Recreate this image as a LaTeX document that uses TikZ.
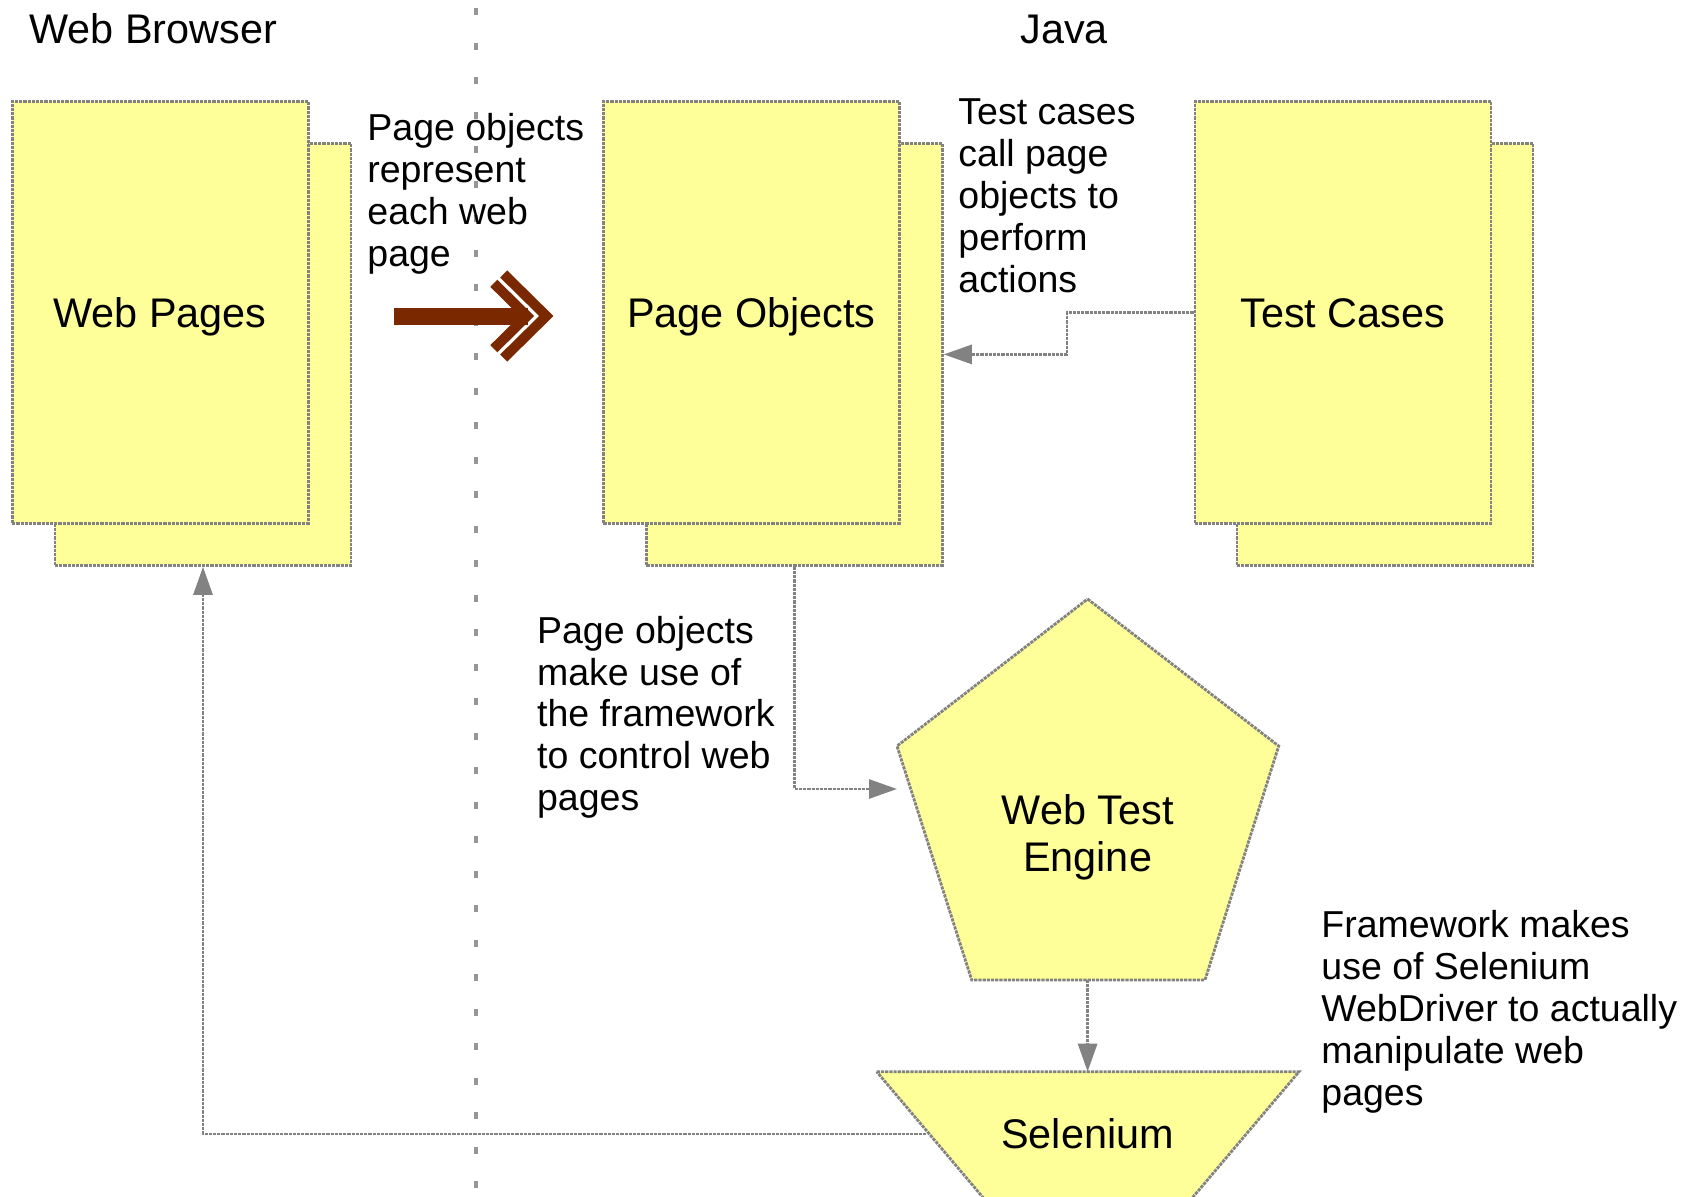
\documentclass[tikz,border=0pt]{standalone}
\usepackage{fontspec}
\setmainfont{Liberation Sans}
\usetikzlibrary{arrows.meta}
\definecolor{pagey}{RGB}{255,255,153}
\definecolor{edgeg}{RGB}{130,130,130}
\definecolor{sepg}{RGB}{150,150,150}
\definecolor{brn}{RGB}{122,40,0}
\newcommand\biglbl{\fontsize{20.7}{23.5}\selectfont}
\newcommand\smalltxt{\fontsize{18.75}{20.9}\selectfont}
\tikzset{
  x=0.5pt, y=-0.5pt,
  edgeline/.style={draw=edgeg, line width=1.4pt, dash pattern=on 1.6pt off 0.5pt},
  pagebox/.style={edgeline, fill=pagey, minimum width=148pt, minimum height=211pt,
    inner sep=0pt, anchor=north west, text height=14.7pt, text depth=0pt, font=\biglbl},
  shapebody/.style={edgeline, fill=pagey, line join=miter},
  conn/.style={edgeline, -{Triangle[length=14pt,width=9.5pt]}},
  heading/.style={font=\biglbl, anchor=base west, inner sep=0pt},
  note/.style={font=\smalltxt, align=left, anchor=base west, inner sep=0pt},
  shapelabel/.style={font=\biglbl, align=center, anchor=base, inner sep=0pt},
  sepline/.style={draw=sepg, line width=1.6pt, dash pattern=on 3.5pt off 13.75pt},
}
\begin{document}
\begin{tikzpicture}
\useasboundingbox (0,0) rectangle (1687,1196);
\clip (0,0) rectangle (1687,1196);

% separator
\coordinate (sepTop) at (476,8);
\coordinate (sepBot) at (476,1200);
\draw[sepline] (sepTop) -- (sepBot);

% headings
\node[heading] (hweb) at (29,43) {Web Browser};
\node[heading] (hjava) at (1020,43) {Java};

% page stacks
\node[pagebox] (wpb) at (53.6,142) {};
\node[pagebox] (wpf) at (10.7,100) {Web Pages};
\node[pagebox] (pob) at (645,142) {};
\node[pagebox] (pof) at (602,100) {Page Objects};
\node[pagebox] (tcb) at (1235.5,142) {};
\node[pagebox] (tcf) at (1193.5,100) {Test Cases};

% pentagon: Web Test Engine
\path[shapebody] (1087.6,599) -- (1278.7,746) -- (1205,980) -- (971.7,980) -- (897,746) -- cycle;
\node[shapelabel] (wte) at (1087.6,871) {Web Test\\Engine};
\coordinate (wteW) at (897,789);
\coordinate (wteS) at (1087.6,980);

% trapezoid: Selenium
\path[shapebody] (876.7,1071.7) -- (1299,1071.7) -- (1148.2,1250) -- (1027.4,1250) -- cycle;
\node[shapelabel] (sel) at (1087.6,1148) {Selenium};
\coordinate (selN) at (1087.6,1071.7);
\coordinate (selW) at (926,1134);

% notes (anchored at the baseline of their last line)
\node[note] (n1) at (367,266) {Page objects\\represent\\each web\\page};
\node[note] (n2) at (958,292) {Test cases\\call page\\objects to\\perform\\actions};
\node[note] (n3) at (536.7,810.5) {Page objects\\make use of\\the framework\\to control web\\pages};
\node[note] (n4) at (1321,1105) {Framework makes\\use of Selenium\\WebDriver to actually\\manipulate web\\pages};

% big brown arrow
\fill[brn] (394,307.5) rectangle (528,325);
\draw[brn, line width=5pt, line join=miter, miter limit=10] (493.8,283.3) -- (527,316) -- (493.8,348.7);
\draw[brn, line width=5pt, line join=miter, miter limit=10] (503.7,274) -- (546.3,316) -- (503.7,358);

% connectors
\coordinate (jog) at (1067,332);
\draw[conn] (tcf.west) -| (jog) |- (pob.east);
\draw[conn] (pob.south) |- (wteW);
\draw[conn] (wteS) -- (selN);
\draw[conn] (selW) -| (wpb.south);
\end{tikzpicture}
\end{document}
